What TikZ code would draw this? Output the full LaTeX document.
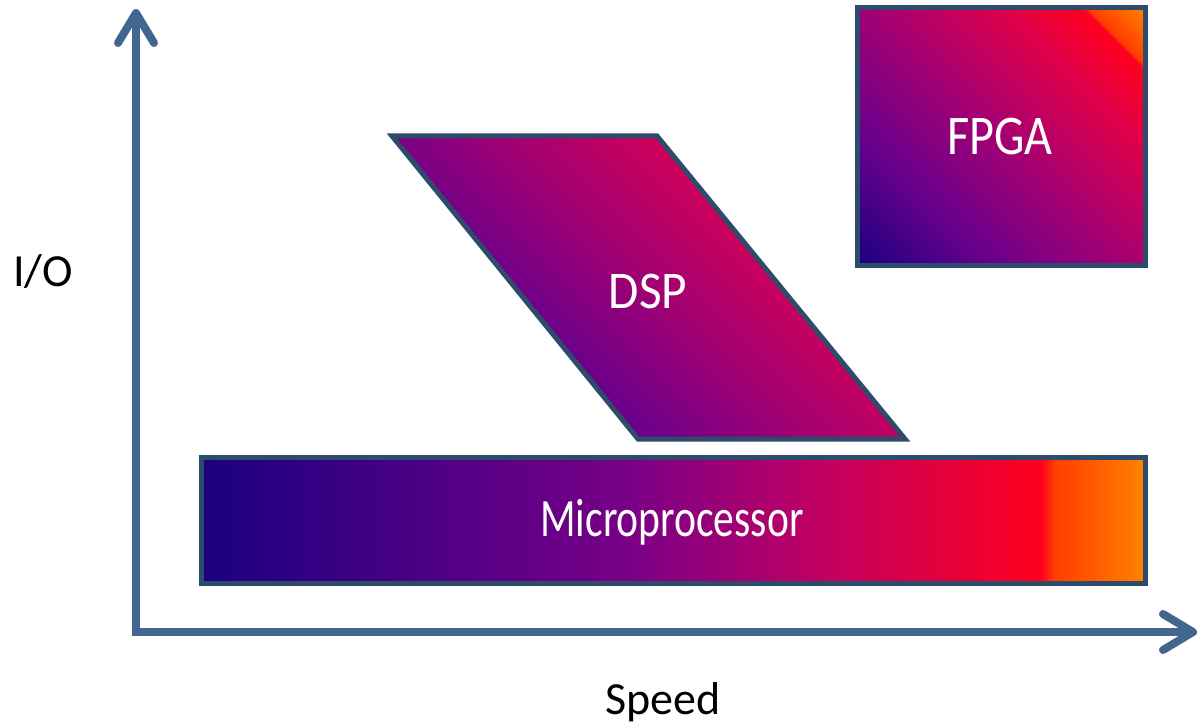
\documentclass[tikz,border=0pt]{standalone}
\usepackage{fontspec}
\usepackage{graphicx}
\setmainfont{Carlito}
\usetikzlibrary{arrows.meta}

\definecolor{axisblue}{RGB}{66,102,145}
\definecolor{edgeslate}{RGB}{47,75,107}

% colour ramp shared by the three blocks
\definecolor{cIndigo}{RGB}{26,0,128}
\definecolor{cViolet}{RGB}{105,0,140}
\definecolor{cPurple}{RGB}{120,0,135}
\definecolor{cPlum}{RGB}{165,0,115}
\definecolor{cMagenta}{RGB}{190,0,100}
\definecolor{cCrimson}{RGB}{225,0,72}
\definecolor{cRed}{RGB}{255,0,30}
\definecolor{cRedOrange}{RGB}{255,62,0}
\definecolor{cOrange}{RGB}{255,130,0}
\definecolor{dLow}{RGB}{85,0,150}
\definecolor{dMid}{RGB}{160,0,115}
\definecolor{dHigh}{RGB}{225,0,80}

% the central 50bp of each shading covers the filled shape
\pgfdeclarehorizontalshading{microshade}{100bp}{%
  color(0bp)=(cIndigo); color(25bp)=(cIndigo);
  color(47.5bp)=(cPurple); color(57.5bp)=(cMagenta);
  color(69.5bp)=(cRed); color(70.2bp)=(cRedOrange);
  color(75bp)=(cOrange); color(100bp)=(cOrange)}
\pgfdeclarehorizontalshading{fpgashade}{100bp}{%
  color(0bp)=(cIndigo); color(14.6bp)=(cIndigo);
  color(32.3bp)=(cViolet); color(50bp)=(cPlum);
  color(67.7bp)=(cCrimson); color(77.4bp)=(cRed);
  color(78.1bp)=(cRedOrange); color(85.4bp)=(cOrange);
  color(100bp)=(cOrange)}
\pgfdeclarehorizontalshading{dspshade}{100bp}{%
  color(0bp)=(dLow); color(31.6bp)=(dLow);
  color(50bp)=(dMid); color(68.4bp)=(dHigh);
  color(100bp)=(dHigh)}

\tikzset{
  axisline/.style={draw=axisblue, line width=8pt, line join=miter,
    {Straight Barb[length=30pt,width=36pt,round]}-{Straight Barb[length=30pt,width=36pt,round]}},
  blockedge/.style={draw=edgeslate, line width=5pt},
  blocklabel/.style={text=white, inner sep=0pt},
  axislabel/.style={text=black, inner sep=0pt, font=\fontsize{46}{52}\selectfont},
}

\begin{document}
\begin{tikzpicture}[x=1pt, y=-1pt]
  \useasboundingbox (0,0) rectangle (1198,727);

  % axes
  \coordinate (ytip) at (136,9);
  \coordinate (xtip) at (1197,632);
  \draw[axisline] (ytip) |- (xtip);

  \node[axislabel] (io) at (43,272) {I/O};
  \node[axislabel, anchor=base] (speed) at (663,714) {Speed};

  % Microprocessor block
  \node[blockedge, shade, shading=microshade, rectangle,
        minimum width=944pt, minimum height=126pt, inner sep=0pt]
        (micro) at (673,520) {};
  \node[blocklabel] (microtext) at (672,522)
    {\fontsize{54}{60}\selectfont\scalebox{0.77}[1]{Microprocessor}};

  % DSP block
  \path[blockedge, shade, shading=dspshade, shading angle=45]
    (392,136) -- (657,136) -- (905,439) -- (638,439) -- cycle;
  \node[blocklabel] (dsp) at (648,291)
    {\fontsize{53}{60}\selectfont\scalebox{0.93}[1]{DSP}};

  % FPGA block
  \node[blockedge, shade, shading=fpgashade, shading angle=45, rectangle,
        minimum width=288pt, minimum height=257pt, inner sep=0pt]
        (fpga) at (1001,136.5) {};
  \node[blocklabel] (fpgatext) at (1000,137)
    {\fontsize{56}{60}\selectfont\scalebox{0.86}[1]{FPGA}};
\end{tikzpicture}
\end{document}
